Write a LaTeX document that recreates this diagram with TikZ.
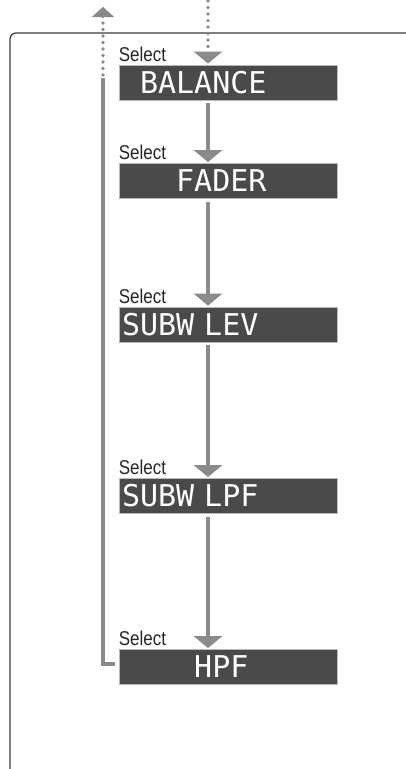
\documentclass[tikz,border=0pt]{standalone}
\usepackage{fontspec}
\usepackage{tikz}
\usetikzlibrary{arrows.meta,positioning,calc}
\newfontfamily\selfont[FakeStretch=0.85]{Liberation Sans}
\newfontfamily\lcdfont{DejaVu Sans Mono}
\definecolor{cG}{HTML}{8a8a8a}
\definecolor{cK}{HTML}{4a4a4a}
\definecolor{cL}{HTML}{3a3a3a}
\tikzset{
  lcdbox/.style={draw=cG!60,fill=cK,line width=0.8pt,minimum width=218pt,
              minimum height=35pt,text width=212pt,inner xsep=3pt,inner ysep=0pt,
              align=left,text=white,font=\lcdfont\fontsize{30}{31}\selectfont},
  sel/.style={anchor=south west,inner sep=0pt,text=black!85,
              font=\selfont\fontsize{20}{21}\selectfont},
  flow/.style={-{Triangle[width=28pt,length=12pt]},line width=3.8pt,cG},
  dotflow/.style={flow,line cap=round,dash pattern=on 0pt off 6.5pt},
  backflow/.style={dotflow,-{Triangle[width=22pt,length=10pt]}},
  panel/.style={cL,line width=1.2pt,rounded corners=6pt},
}

\begin{document}
\begin{tikzpicture}[x=1pt,y=1pt]
  \useasboundingbox (0,0) rectangle (406,-769);
  \draw[panel] (406,-33) -- (10,-33) -- (10,-769);
  % display steps
  \node[lcdbox](bal) at (228,-82.5){\hphantom{X}BALANCE};
  \node[lcdbox](fad) at (228,-181){\hphantom{XXX}FADER};
  \node[lcdbox](lev) at (228,-324.5){SUBW LEV};
  \node[lcdbox](lpf) at (228,-496){SUBW LPF};
  \node[lcdbox](hpf) at (228,-667){\hphantom{XXXX}HPF};
  \foreach \b in {bal,fad,lev,lpf,hpf}
    \node[sel](sel-\b) at ([yshift=3pt]\b.north west){Select};
  % arrows
  \coordinate (ax) at (208,-1);
  \coordinate (rt) at (103,-78);
  \coordinate (out) at (103,-7);
  \draw[dotflow] (ax) -- ([yshift=1pt]bal.north -| ax);
  \foreach \a/\b in {bal/fad,fad/lev,lev/lpf,lpf/hpf}
    \draw[flow] ([yshift=-3pt]\a.south -| ax) -- ([yshift=1pt]\b.north -| ax);
  \draw[flow,-,line join=miter] ([xshift=-4pt,yshift=3pt]hpf.west) -| (rt);
  \draw[backflow] ([yshift=3pt]rt) -- (out);
\end{tikzpicture}
\end{document}
